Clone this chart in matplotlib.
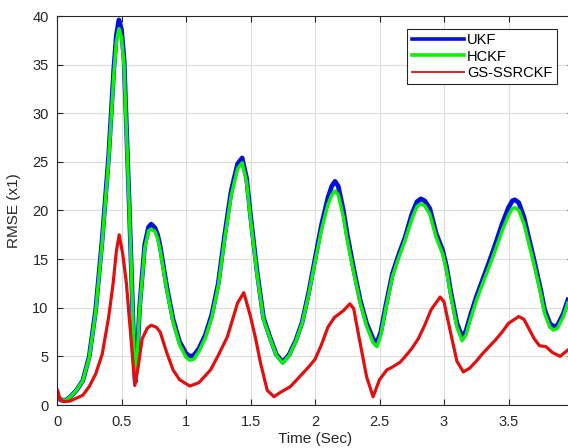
import matplotlib
matplotlib.use('Agg')
import matplotlib.pyplot as plt
from matplotlib.lines import Line2D

plt.rcParams['font.family'] = ['Liberation Sans', 'DejaVu Sans']

# time samples (UKF / HCKF share them)
t_kf = [0.00, 0.03, 0.07, 0.10, 0.15, 0.20, 0.25, 0.30, 0.35, 0.40,
        0.44, 0.46, 0.48, 0.50, 0.52, 0.54, 0.56, 0.58, 0.60, 0.607,
        0.62, 0.64, 0.68, 0.71, 0.73, 0.76, 0.78, 0.80, 0.85, 0.90,
        0.95, 1.00, 1.03, 1.06, 1.10, 1.15, 1.20, 1.25, 1.30, 1.35,
        1.40, 1.435, 1.47, 1.50, 1.55, 1.60, 1.65, 1.70, 1.75, 1.80,
        1.85, 1.90, 1.95, 2.00, 2.05, 2.10, 2.13, 2.155, 2.18, 2.22,
        2.25, 2.30, 2.35, 2.40, 2.45, 2.48, 2.51, 2.55, 2.60, 2.65,
        2.70, 2.75, 2.79, 2.82, 2.85, 2.89, 2.94, 2.99, 3.02, 3.05,
        3.10, 3.14, 3.17, 3.20, 3.25, 3.30, 3.35, 3.40, 3.45, 3.50,
        3.53, 3.55, 3.58, 3.62, 3.65, 3.70, 3.75, 3.78, 3.82, 3.85,
        3.88, 3.925, 3.96]
ukf = [1.0, 0.5, 0.5, 0.8, 1.5, 2.5, 5.0, 9.8, 17.0, 25.5,
       34.5, 38.0, 39.6, 38.6, 35.5, 28.0, 20.5, 12.5, 4.0, 2.4,
       4.5, 10.0, 16.5, 18.3, 18.6, 18.2, 17.5, 16.3, 12.2, 8.8,
       6.5, 5.3, 5.0, 5.1, 5.8, 7.2, 9.3, 12.5, 17.5, 22.0,
       24.8, 25.4, 23.3, 19.5, 13.8, 9.0, 7.0, 5.2, 4.4, 5.2,
       6.6, 8.5, 11.5, 15.0, 18.5, 21.3, 22.5, 23.0, 22.5, 20.0,
       17.5, 14.0, 10.8, 8.4, 6.8, 6.4, 7.5, 10.3, 13.5, 15.5,
       17.3, 19.6, 20.9, 21.2, 21.0, 20.2, 17.6, 15.9, 14.2, 11.8,
       8.4, 7.0, 7.6, 9.0, 11.1, 12.9, 14.7, 16.6, 18.6, 20.3,
       21.0, 21.1, 20.8, 19.3, 17.6, 14.8, 11.8, 9.8, 8.4, 8.05,
       8.2, 9.4, 10.8]
hckf = [1.1, 0.5, 0.5, 0.8, 1.5, 2.5, 4.9, 9.6, 16.7, 25.1,
        33.9, 37.3, 38.7, 37.8, 34.8, 27.5, 20.2, 12.3, 3.9, 2.3,
        4.4, 9.8, 16.1, 17.9, 18.1, 17.8, 17.1, 15.9, 11.9, 8.5,
        6.2, 4.9, 4.6, 4.7, 5.5, 6.9, 9.0, 12.2, 17.1, 21.5,
        24.3, 24.9, 22.9, 19.1, 13.5, 8.8, 6.9, 5.1, 4.3, 5.1,
        6.5, 8.4, 11.3, 14.7, 18.0, 20.6, 21.6, 22.0, 21.6, 19.3,
        16.9, 13.6, 10.5, 8.1, 6.4, 6.0, 7.2, 10.0, 13.2, 15.2,
        17.0, 19.1, 20.4, 20.7, 20.5, 19.6, 17.2, 15.5, 13.8, 11.4,
        8.0, 6.6, 7.2, 8.6, 10.7, 12.5, 14.2, 16.0, 17.9, 19.5,
        20.2, 20.3, 20.0, 18.6, 17.0, 14.3, 11.4, 9.4, 8.0, 7.7,
        7.9, 9.1, 10.5]

t_gs = [0.00, 0.01, 0.02, 0.05, 0.10, 0.15, 0.20, 0.25, 0.30, 0.35,
        0.40, 0.435, 0.46, 0.482, 0.51, 0.538, 0.56, 0.577, 0.603, 0.63,
        0.66, 0.70, 0.73, 0.77, 0.80, 0.85, 0.90, 0.95, 1.03, 1.10,
        1.19, 1.25, 1.32, 1.40, 1.448, 1.50, 1.54, 1.578, 1.63, 1.682,
        1.72, 1.81, 1.88, 1.95, 2.00, 2.05, 2.10, 2.15, 2.19, 2.22,
        2.27, 2.30, 2.335, 2.40, 2.45, 2.50, 2.556, 2.60, 2.66, 2.70,
        2.75, 2.80, 2.85, 2.90, 2.97, 3.00, 3.05, 3.10, 3.15, 3.20,
        3.25, 3.30, 3.35, 3.40, 3.45, 3.50, 3.58, 3.62, 3.66, 3.70,
        3.74, 3.79, 3.84, 3.90, 3.96]
gs_ssrckf = [1.6, 1.3, 0.6, 0.35, 0.4, 0.7, 1.0, 1.9, 3.2, 5.2,
             9.0, 12.5, 15.8, 17.5, 15.5, 12.5, 9.0, 6.3, 2.0, 4.0,
             6.8, 7.9, 8.2, 8.0, 7.5, 5.4, 3.6, 2.6, 1.95, 2.3,
             3.6, 5.1, 7.0, 10.5, 11.55, 9.1, 6.8, 4.3, 1.5, 0.85,
             1.2, 1.9, 2.9, 3.9, 4.7, 6.2, 8.0, 9.0, 9.4, 9.7,
             10.4, 9.9, 7.4, 2.9, 0.85, 2.6, 3.6, 3.9, 4.4, 5.0,
             5.8, 6.8, 8.2, 9.8, 11.1, 10.6, 7.5, 4.5, 3.4, 3.8,
             4.5, 5.3, 6.0, 6.7, 7.5, 8.4, 9.1, 8.8, 7.8, 6.8,
             6.1, 6.0, 5.4, 5.0, 5.65]

labels = ['UKF', 'HCKF', 'GS-SSRCKF']
colours = ['#0010d8', '#10ee10', '#e01010']

fig = plt.figure(figsize=(5.68, 4.48), dpi=100)
ax = fig.add_axes([57 / 568, 43 / 448, 516 / 568, 389 / 448])

ax.plot(t_kf, ukf, color=colours[0], lw=3.4, solid_joinstyle='round')
ax.plot(t_kf, hckf, color=colours[1], lw=2.5, solid_joinstyle='round')
ax.plot(t_gs, gs_ssrckf, color=colours[2], lw=2.3, solid_joinstyle='round')

ax.set_xlim(0, 4)
ax.set_ylim(0, 40)
ax.set_xticks([0, 0.5, 1, 1.5, 2, 2.5, 3, 3.5])
ax.set_xticklabels(['0', '0.5', '1', '1.5', '2', '2.5', '3', '3.5'])
ax.set_yticks(range(0, 41, 5))
ax.grid(True, color='#dcdcdc', lw=0.8)
ax.set_axisbelow(True)
for s in ax.spines.values():
  s.set_color('#262626')
  s.set_linewidth(0.8)
ax.tick_params(direction='in', length=4, width=0.8, color='#262626', labelcolor='#262626',
               labelsize=10.5, top=True, right=True)
ax.tick_params(axis='y', pad=6)
ax.tick_params(axis='x', pad=7)
ax.set_xlabel('Time (Sec)', fontsize=11, color='#262626', labelpad=2)
ax.set_ylabel('RMSE (x1)', fontsize=11, color='#262626', labelpad=8)

handles = [Line2D([], [], color=colours[0], lw=2.6),
           Line2D([], [], color=colours[1], lw=2.6),
           Line2D([], [], color=colours[2], lw=1.3)]
leg = ax.legend(handles, labels, loc='upper right', bbox_to_anchor=(557 / 568, 1 - 29 / 448),
                bbox_transform=fig.transFigure, fontsize=10.5, fancybox=False, framealpha=1,
                edgecolor='#262626', handlelength=3.6, handletextpad=0.2, labelspacing=0.15,
                borderpad=0.3, borderaxespad=0)
leg.get_frame().set_linewidth(0.8)

plt.savefig('out.png', dpi=100)
